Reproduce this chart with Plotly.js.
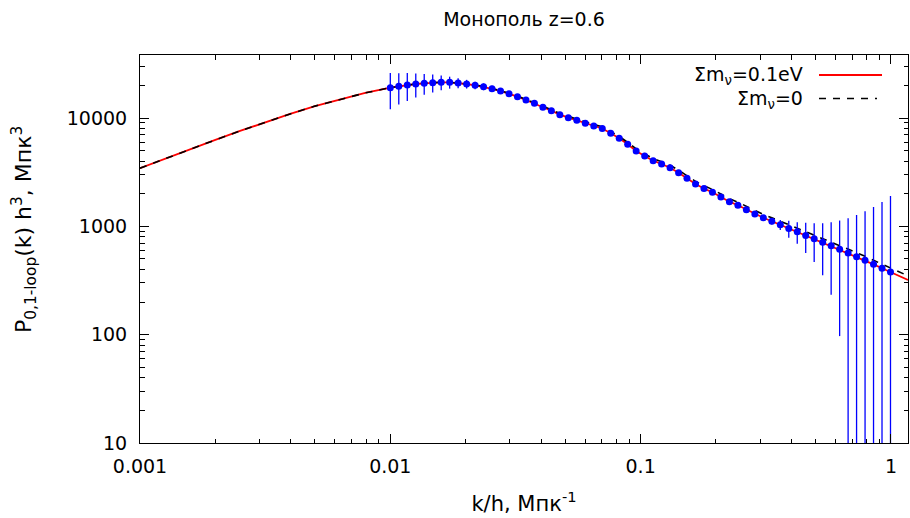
<!DOCTYPE html>
<html>
<head>
<meta charset="utf-8">
<script src="https://cdn.plot.ly/plotly-3.0.1.min.js"></script>
<style>html,body{margin:0;padding:0;background:#fff;}#chart{width:910px;height:518px;}</style>
</head>
<body>
<div id="chart"></div>
<script>
// ---- data ----
const kData = [0.01000,0.01081,0.01169,0.01264,0.01366,0.01477,0.01597,0.01726,0.01866,0.02018,
  0.02181,0.02358,0.02549,0.02756,0.02980,0.03221,0.03483,0.03765,0.04070,0.04400,
  0.04757,0.05143,0.05560,0.06011,0.06499,0.07026,0.07596,0.08212,0.08878,0.09598,
  0.1038,0.1122,0.1213,0.1311,0.1418,0.1532,0.1657,0.1791,0.1936,0.2093,
  0.2263,0.2447,0.2645,0.2860,0.3092,0.3343,0.3614,0.3907,0.4224,0.4566,
  0.4936,0.5337,0.5770,0.6238,0.6744,0.7290,0.7882,0.8521,0.9212,0.9959];
const pData = [19040,19620,20170,20600,20910,21180,21360,21360,21040,20600,
  20040,19450,18600,17750,16760,15730,14660,13670,12560,11680,
  10730,10060,9520,8940,8440,8000,7225,6495,5718,4960,
  4460,4035,3762,3477,3127,2776,2459,2235,2061,1866,
  1689,1564,1424,1299,1199,1115,1033,955,890,823,
  769,712,663,614,567,524,486,446,410,379];
const errData = [7000,6300,5800,5100,4500,4000,3300,2700,2200,1900,
  1600,1400,1200,1000,850,720,600,500,420,360,
  310,270,240,210,190,170,150,130,110,100,
  90,80,70,65,60,55,50,45,42,40,
  40,40,42,45,55,75,110,170,200,255,
  300,358,430,517,619,748,890,1062,1267,1526];

const kModel = [0.001,0.00126,0.00158,0.002,0.00251,0.00316,0.00398,0.005,0.00631,0.00794,
  0.01000,0.01081,0.01169,0.01264,0.01366,0.01477,0.01597,0.01726,0.01866,0.02018,
  0.02181,0.02358,0.02549,0.02756,0.02980,0.03221,0.03483,0.03765,0.04070,0.04400,
  0.04757,0.05143,0.05560,0.06011,0.06499,0.07026,0.07596,0.08212,0.08878,0.09598,
  0.1038,0.1122,0.1213,0.1311,0.1418,0.1532,0.1657,0.1791,0.1936,0.2093,
  0.2263,0.2447,0.2645,0.2860,0.3092,0.3343,0.3614,0.3907,0.4224,0.4566,
  0.4936,0.5337,0.5770,0.6238,0.6744,0.7290,0.7882,0.8521,0.9212,0.9959,1.17];
// Σmν = 0.1 eV
const pMassive = [3440,4223,5160,6276,7597,9133,10905,12874,14950,17045,
  19040,19620,20170,20600,20910,21180,21360,21360,21040,20600,
  20040,19450,18600,17750,16760,15730,14660,13670,12560,11680,
  10730,10060,9520,8940,8440,8000,7225,6495,5718,4960,
  4460,4035,3762,3477,3127,2776,2459,2235,2061,1866,
  1689,1564,1424,1299,1199,1115,1033,955,890,823,
  769,712,663,614,567,524,486,446,410,379,320];
// Σmν = 0
const pMassless = [3440,4223,5160,6276,7597,9133,10905,12874,14950,17045,
  19040,19620,20170,20600,20910,21180,21360,21360,21040,20700,
  20160,19610,18790,17960,16990,15980,14920,13940,12840,11960,
  11010,10340,9810,9230,8730,8290,7500,6755,5960,5180,
  4665,4230,3950,3658,3296,2931,2602,2369,2189,1985,
  1800,1670,1524,1393,1288,1200,1114,1031,963,892,
  834,773,721,668,617,571,530,486,447,413,349];

const xTickVals = [0.001,0.01,0.1,1];
const xTickText = ['0.001','0.01','0.1','1'];
const yTickVals = [10,100,1000,10000];
const yTickText = ['10','100','1000','10000'];
const xMinorVals = [0.002,0.003,0.004,0.005,0.006,0.007,0.008,0.009,
  0.02,0.03,0.04,0.05,0.06,0.07,0.08,0.09,0.2,0.3,0.4,0.5,0.6,0.7,0.8,0.9];
const yMinorVals = [20,30,40,50,60,70,80,90,200,300,400,500,600,700,800,900,
  2000,3000,4000,5000,6000,7000,8000,9000,20000,30000];

const labelMassive = 'Σm<sub>ν</sub>=0.1eV';
const labelMassless = 'Σm<sub>ν</sub>=0';
const titleText = 'Монополь z=0.6';
const xTitle = 'k/h, Мпк<sup>-1</sup>';
const yTitle = 'P<sub>0,1-loop</sub>(k) h<sup>3</sup>, Мпк<sup>3</sup>';

// ---- traces ----
const traces = [
  {x: kModel, y: pMassive, type: 'scatter', mode: 'lines',
   line: {color: '#ff0000', width: 1.8}, hoverinfo: 'skip', showlegend: false},
  {x: kModel, y: pMassless, type: 'scatter', mode: 'lines',
   line: {color: '#000000', width: 1.6, dash: '7px,7px'}, hoverinfo: 'skip', showlegend: false},
  {x: kData, y: pData, type: 'scatter', mode: 'markers',
   marker: {color: '#0000ff', size: 7},
   error_y: {type: 'data', array: errData, visible: true, color: '#0000ff', thickness: 1.3, width: 0},
   showlegend: false}
];

const FONT = 'DejaVu Sans, sans-serif';
const FS = 19;
const FT = 21;
const axisCommon = {
  type: 'log', showline: true, linecolor: '#000', linewidth: 1, mirror: 'ticks',
  ticks: 'inside', ticklen: 9, tickwidth: 1, tickcolor: '#000', showgrid: false, zeroline: false,
  tickmode: 'array', tickfont: {family: FONT, size: FS, color: '#000'},
};

const layout = {
  width: 910, height: 518,
  margin: {l: 140, r: 2, t: 55, b: 75},
  paper_bgcolor: '#fff', plot_bgcolor: '#fff',
  font: {family: FONT, size: FS, color: '#000'},
  title: {text: titleText, x: 0.5, xref: 'paper', y: 1 - 19/518, yref: 'container',
          xanchor: 'center', yanchor: 'middle', font: {family: FONT, size: FS, color: '#000'}},
  xaxis: Object.assign({}, axisCommon, {
    range: [Math.log10(0.001), Math.log10(1.17)],
    tickvals: xTickVals, ticktext: xTickText, ticklabelstandoff: 6,
    minor: {tickmode: 'array', tickvals: xMinorVals, ticks: 'inside', ticklen: 4.5, tickcolor: '#000', showgrid: false},
    title: {text: xTitle, font: {family: FONT, size: FT, color: '#000'}, standoff: 20}
  }),
  yaxis: Object.assign({}, axisCommon, {
    range: [1, Math.log10(38150)],
    tickvals: yTickVals, ticktext: yTickText, ticklabelstandoff: 8,
    minor: {tickmode: 'array', tickvals: yMinorVals, ticks: 'inside', ticklen: 4.5, tickcolor: '#000', showgrid: false}
  }),
  showlegend: false,
  annotations: [
    {text: yTitle, xref: 'paper', yref: 'paper', x: (24-140)/768, y: (443-230)/388,
     xanchor: 'center', yanchor: 'middle', textangle: -90, showarrow: false,
     font: {family: FONT, size: 22, color: '#000'}},
    {text: labelMassive, xref: 'paper', yref: 'paper', x: (805-140)/768, y: (443-75)/388,
     xanchor: 'right', yanchor: 'middle', showarrow: false, font: {family: FONT, size: FS, color: '#000'}},
    {text: labelMassless, xref: 'paper', yref: 'paper', x: (805-140)/768, y: (443-99)/388,
     xanchor: 'right', yanchor: 'middle', showarrow: false, font: {family: FONT, size: FS, color: '#000'}}
  ],
  shapes: [
    {type: 'line', xref: 'paper', yref: 'paper', x0: (819-140)/768, x1: (882-140)/768,
     y0: (443-75)/388, y1: (443-75)/388, line: {color: '#ff0000', width: 1.8}},
    {type: 'line', xref: 'paper', yref: 'paper', x0: (819-140)/768, x1: (877-140)/768,
     y0: (443-98.5)/388, y1: (443-98.5)/388, line: {color: '#000', width: 1.6, dash: '7px,7px'}}
  ]
};

Plotly.newPlot('chart', traces, layout, {displayModeBar: false, staticPlot: true});
</script>
</body>
</html>
